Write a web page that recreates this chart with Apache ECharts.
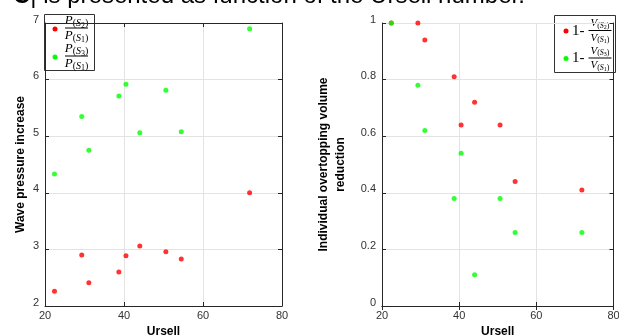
<!DOCTYPE html>
<html>
<head>
<meta charset="utf-8">
<script src="https://cdn.jsdelivr.net/npm/echarts@6/dist/echarts.min.js"></script>
<style>
    html, body { margin: 0; padding: 0; background: #fff; }
    #chart { width: 619px; height: 335px; }
</style>
</head>
<body>
<div id="chart"></div>
<script>
// Ursell number of each test
const ursell = [22.4, 29.3, 31.1, 38.7, 40.5, 44.0, 50.6, 54.5, 71.8];
// Wave pressure increase P(S2)/P(S1) and P(S3)/P(S1)
const pressureS2 = [2.26, 2.90, 2.41, 2.60, 2.89, 3.06, 2.96, 2.83, 4.00];
const pressureS3 = [4.33, 5.35, 4.75, 5.71, 5.92, 5.06, 5.81, 5.08, 6.90];
// Overtopping volume reduction 1 - V(S2)/V(S1) and 1 - V(S3)/V(S1)
const volumeS2 = [1.00, 1.00, 0.94, 0.81, 0.64, 0.72, 0.64, 0.44, 0.41];
const volumeS3 = [1.00, 0.78, 0.62, 0.38, 0.54, 0.11, 0.38, 0.26, 0.26];
const xTicks = [20, 40, 60, 80];

const RED = '#ff0000';
const GREEN = '#00ff00';
const AXIS = '#262626';
const FONT = '"Liberation Sans", Arial, sans-serif';
const SERIF = '"Liberation Serif", "DejaVu Serif", serif';

function pairs(xs, ys) {
    return xs.map((x, i) => [x, ys[i]]);
}

// main axis (with labels) and the mirror axis that closes the box
function xAxes(gridIndex) {
    return [
        {
            gridIndex: gridIndex, type: 'value', position: 'bottom',
            min: xTicks[0], max: xTicks[xTicks.length - 1], interval: 20,
            name: 'Ursell', nameLocation: 'middle', nameGap: 18,
            nameTextStyle: {color: '#000', fontWeight: 'bold', fontSize: 12, fontFamily: FONT},
            axisLine: {show: true, lineStyle: {color: AXIS}},
            axisTick: {inside: true, length: 4, lineStyle: {color: AXIS}},
            axisLabel: {color: '#333', fontSize: 11, fontFamily: FONT, margin: 4},
            splitLine: {show: true, lineStyle: {color: '#e3e3e3'}}
        },
        {
            gridIndex: gridIndex, type: 'value', position: 'top',
            min: xTicks[0], max: xTicks[xTicks.length - 1], interval: 20,
            axisLine: {show: true, lineStyle: {color: AXIS}},
            axisTick: {inside: true, length: 4, lineStyle: {color: AXIS}},
            axisLabel: {show: false},
            splitLine: {show: false}
        }
    ];
}

function yAxes(gridIndex, min, max, interval, name, nameGap) {
    return [
        {
            gridIndex: gridIndex, type: 'value', position: 'left',
            min: min, max: max, interval: interval,
            name: name, nameLocation: 'middle', nameGap: nameGap,
            nameTextStyle: {color: '#000', fontWeight: 'bold', fontSize: 12, fontFamily: FONT, lineHeight: 17},
            axisLine: {show: true, lineStyle: {color: AXIS}},
            axisTick: {inside: true, length: 4, lineStyle: {color: AXIS}},
            axisLabel: {
                color: '#333', fontSize: 11, fontFamily: FONT, margin: 6,
                lineHeight: 7, verticalAlign: 'bottom',
                formatter: v => String(Math.round(v * 10) / 10)
            },
            splitLine: {show: true, lineStyle: {color: '#e3e3e3'}}
        },
        {
            gridIndex: gridIndex, type: 'value', position: 'right',
            min: min, max: max, interval: interval,
            axisLine: {show: true, lineStyle: {color: AXIS}},
            axisTick: {inside: true, length: 4, lineStyle: {color: AXIS}},
            axisLabel: {show: false},
            splitLine: {show: false}
        }
    ];
}

function dots(xi, yi, data, color) {
    return {
        type: 'scatter', xAxisIndex: xi, yAxisIndex: yi,
        data: data, symbol: 'circle', symbolSize: 5,
        itemStyle: {color: color}, silent: true
    };
}

// fraction with a bar, drawn as legend text
function fraction(cx, topY, num, den, size) {
    const rich = {
        m: {fontFamily: SERIF, fontStyle: 'italic', fontSize: size, fill: '#000'},
        s: {fontFamily: SERIF, fontSize: size - 3, fill: '#000', padding: [size * 0.4, 0, 0, 0]},
        ss: {fontFamily: SERIF, fontStyle: 'italic', fontSize: size - 3, fill: '#000', padding: [size * 0.4, 0, 0, 0]},
        d: {fontFamily: SERIF, fontSize: size - 5, fill: '#000', padding: [size * 0.7, 0, 0, 0]}
    };
    const txt = (sub) => '{m|' + sub[0] + '}{s|(}{ss|S}{d|' + sub[1] + '}{s|)}';
    return [
        {type: 'text', x: cx, y: topY, style: {text: txt(num), rich: rich, align: 'center', verticalAlign: 'middle'}},
        {type: 'line', shape: {x1: cx - 11.5, y1: topY + 7, x2: cx + 11.5, y2: topY + 7}, style: {stroke: '#000', lineWidth: 1}},
        {type: 'text', x: cx, y: topY + 14.5, style: {text: txt(den), rich: rich, align: 'center', verticalAlign: 'middle'}}
    ];
}

const legendLeft = [
    {type: 'rect', shape: {x: 44.5, y: 14.5, width: 50, height: 56}, style: {fill: '#fff', stroke: '#333', lineWidth: 1}},
    {type: 'circle', shape: {cx: 55, cy: 29, r: 2.5}, style: {fill: RED}},
    {type: 'circle', shape: {cx: 55, cy: 57, r: 2.5}, style: {fill: GREEN}}
].concat(fraction(76.5, 21, ['P', '2'], ['P', '1'], 13))
 .concat(fraction(76.5, 49, ['P', '3'], ['P', '1'], 13));

const legendRight = [
    {type: 'rect', shape: {x: 554.5, y: 15.5, width: 61, height: 57}, style: {fill: '#fff', stroke: '#333', lineWidth: 1}},
    {type: 'circle', shape: {cx: 566, cy: 31, r: 2.5}, style: {fill: RED}},
    {type: 'circle', shape: {cx: 566, cy: 58.5, r: 2.5}, style: {fill: GREEN}},
    {type: 'text', x: 572, y: 31, style: {text: '1-', font: '15px ' + SERIF, fill: '#000', verticalAlign: 'middle'}},
    {type: 'text', x: 572, y: 58.5, style: {text: '1-', font: '15px ' + SERIF, fill: '#000', verticalAlign: 'middle'}}
].concat(fraction(600, 23.5, ['V', '2'], ['V', '1'], 11))
 .concat(fraction(600, 51, ['V', '3'], ['V', '1'], 11));

const heading = {
    type: 'text', x: 13, y: 8,
    style: {
        text: '{b|C}| is presented as function of the Ursell number.',
        font: '24px ' + FONT, fill: '#000', verticalAlign: 'bottom',
        rich: {b: {fontWeight: 'bold', fontSize: 24, fontFamily: FONT}}
    }
};

let myChart = echarts.init(document.getElementById('chart'), null, {renderer: 'canvas'});

let option = {
    backgroundColor: '#fff',
    animation: false,
    grid: [
        {left: 45, top: 23, width: 237, height: 283, outerBoundsMode: 'none'},
        {left: 382, top: 23, width: 231.5, height: 283, outerBoundsMode: 'none'}
    ],
    xAxis: xAxes(0).concat(xAxes(1)),
    yAxis: yAxes(0, 2, 7, 1, 'Wave pressure increase', 13)
        .concat(yAxes(1, 0, 1, 0.2, 'Individual overtopping volume\nreduction', 33)),
    series: [
        dots(0, 0, pairs(ursell, pressureS2), RED),
        dots(0, 0, pairs(ursell, pressureS3), GREEN),
        dots(2, 2, pairs(ursell, volumeS2), RED),
        dots(2, 2, pairs(ursell, volumeS3), GREEN)
    ],
    graphic: [heading].concat(legendLeft, legendRight)
};

myChart.setOption(option);
</script>
</body>
</html>
